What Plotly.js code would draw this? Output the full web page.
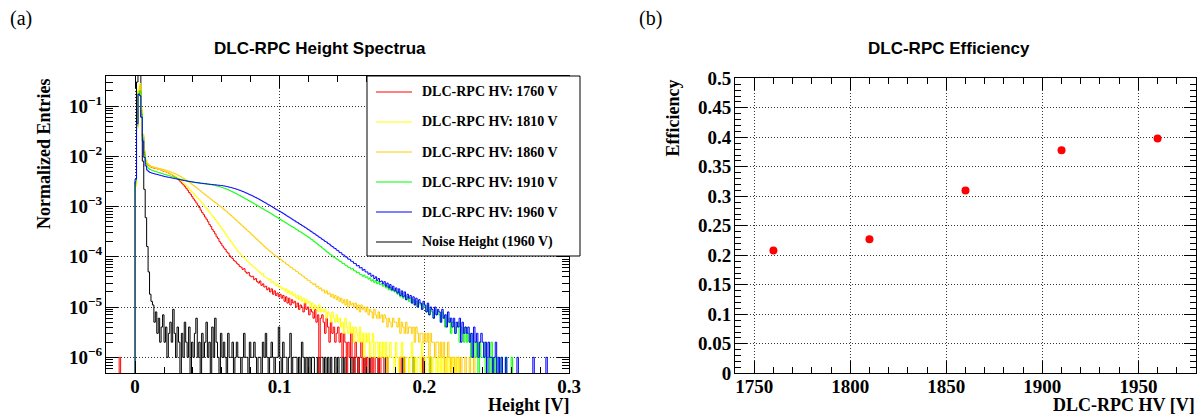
<!DOCTYPE html>
<html><head><meta charset="utf-8">
<script src="https://cdn.plot.ly/plotly-3.0.1.min.js"></script>
<style>html,body{margin:0;padding:0;background:#fff;}#chart{width:1202px;height:415px;}</style>
</head><body><div id="chart"></div>
<script>
// ---------------- DATA ----------------
// Left panel histograms: bin k covers [BIN_START + k*BIN_WIDTH, BIN_START + (k+1)*BIN_WIDTH).
// Values are normalized entries in units of ENTRY_UNIT (1e-6); one row = 0.01 V.
const BIN_START = -0.02;
const BIN_WIDTH = 0.001;
const N_BINS = 320;
const ENTRY_UNIT = 1e-6;

const hv1760 = [
 0,0,0,0,0,0,0,0,0,1,
 0,0,0,0,0,0,0,0,0,0,
 3000,40000,170000,200000,70000,25000,12000,8200,7000,6500,
 6200,6050,5900,5800,5700,5600,5500,5400,5250,5100,
 5000,4900,4750,4600,4450,4300,4150,3950,3750,3550,
 3350,3100,2900,2700,2500,2300,2100,1900,1750,1580,
 1420,1300,1180,1060,960,850,760,690,620,560,
 500,440,400,350,320,285,250,230,200,185,
 165,150,140,125,118,105,98,92,84,80,
 74,70,64,62,56,58,50,47,49,42,
 40,41,35,37,32,30,33,27,29,25,
 26,22,24,20,23,18,21,17,19,16,
 18,15,17,13,16,12,15,11,14,12,
 13,10,12,9,11,10,8,12,9,10,
 7,9,8,6,9,5,7,0,6,7,
 5,3,6,4,2,5,3,4,2,3,
 4,2,3,1,3,2,0,2,1,3,
 1,0,2,1,0,1,2,0,1,0,
 1,0,0,1,0,1,0,0,1,0,
 1,1,0,0,1,0,0,0,0,0,
 0,0,0,1,0,0,1,0,0,0,
 0,0,0,0,0,0,0,0,1,0];

const hv1810 = [
 0,0,0,0,0,0,0,0,0,0,
 0,0,0,0,0,0,0,0,0,0,
 2500,35000,220000,280000,90000,28000,13000,8500,7200,6700,
 6300,6150,6000,5900,5750,5650,5500,5400,5300,5200,
 5050,4950,4800,4650,4500,4350,4200,4050,3900,3750,
 3550,3350,3150,2950,2800,2600,2450,2250,2100,1950,
 1820,1680,1560,1450,1350,1250,1160,1080,1000,920,
 850,780,710,650,600,550,500,460,420,390,
 350,320,290,260,240,215,200,180,165,150,
 138,125,118,108,100,96,88,82,79,72,
 70,64,62,58,55,51,49,45,46,40,
 39,37,35,36,31,32,29,27,29,25,
 26,23,24,21,23,19,21,18,20,17,
 18,15,17,14,16,13,15,12,14,12,
 13,10,12,9,11,10,8,11,8,9,
 8,9,6,8,7,5,8,6,5,7,
 5,6,4,5,3,6,4,3,5,3,
 4,2,4,3,2,4,2,3,1,3,
 2,3,1,2,3,1,2,2,1,2,
 1,2,1,2,0,1,2,1,1,0,
 2,1,0,1,2,1,0,1,1,0,
 1,2,0,1,0,1,1,0,2,1,
 0,1,1,0,1,0,1,1,0,1,
 0,1,0,1,0,0,1,0,1,0,
 1,0,0,1,0,0,0,0,0,0];

const hv1860 = [
 0,0,0,0,0,0,0,0,0,0,
 0,0,0,0,0,0,0,0,0,0,
 2800,38000,200000,250000,85000,27000,12500,8400,7300,6800,
 6500,6300,6150,6050,5950,5850,5750,5650,5550,5450,
 5350,5250,5150,5050,4900,4800,4650,4550,4400,4250,
 4100,3950,3800,3650,3500,3350,3200,3050,2900,2750,
 2620,2500,2370,2250,2130,2020,1910,1810,1720,1630,
 1550,1480,1400,1330,1260,1200,1140,1080,1030,980,
 930,880,830,790,740,700,660,620,590,550,
 520,490,460,430,410,380,360,340,320,300,
 280,265,250,232,220,205,195,182,172,160,
 150,144,134,128,121,114,108,103,99,94,
 90,86,80,78,72,70,66,62,61,56,
 55,51,50,46,45,42,41,38,37,34,
 34,31,30,28,29,25,26,23,24,21,
 22,19,21,18,19,16,18,15,17,14,
 16,13,15,12,14,11,14,10,13,11,
 12,10,12,9,11,8,11,9,10,8,
 10,7,9,8,6,9,7,6,8,6,
 7,5,7,6,4,6,5,4,6,5,
 5,4,6,3,5,4,3,5,3,4,
 4,3,4,2,4,3,2,3,3,2,
 3,2,3,1,3,2,2,1,2,2,
 1,2,1,2,0,1,2,1,0,1,
 1,0,1,1,0,1,0,0,1,0,
 0,1,0,0,1,0,0,0,0,0];

const hv1910 = [
 0,0,0,0,0,0,0,0,0,0,
 0,0,0,0,0,0,0,0,0,0,
 3200,42000,180000,200000,70000,23000,11000,7200,6100,5700,
 5450,5300,5150,5050,4950,4850,4750,4650,4550,4450,
 4380,4290,4200,4110,4020,3930,3850,3770,3690,3620,
 3550,3490,3430,3370,3320,3270,3220,3170,3120,3080,
 3040,3000,2970,2940,2910,2880,2860,2840,2820,2800,
 2780,2750,2720,2690,2650,2610,2570,2530,2480,2430,
 2380,2330,2270,2210,2150,2090,2020,1960,1890,1830,
 1770,1710,1650,1590,1530,1480,1420,1370,1320,1270,
 1220,1180,1130,1090,1050,1010,970,930,900,860,
 830,800,770,740,710,680,650,630,600,580,
 555,530,510,490,470,450,430,415,400,385,
 370,352,340,322,312,298,286,272,262,250,
 240,226,218,204,196,186,176,166,160,150,
 142,136,126,122,114,110,104,98,95,90,
 87,82,80,74,73,68,66,62,61,57,
 58,53,52,48,49,45,44,41,43,39,
 40,36,38,33,35,31,34,29,32,28,
 29,26,28,24,26,22,25,21,23,20,
 21,18,20,16,19,15,17,14,16,13,
 15,12,14,11,13,10,12,11,9,12,
 10,8,11,7,9,8,6,9,7,8,
 7,5,8,6,4,7,5,6,3,5,
 5,3,4,5,2,4,3,2,4,2,
 3,2,1,3,2,1,2,0,2,1,
 1,2,0,1,1,0,2,0,1,0,
 1,0,0,1,0,0,1,0,0,0,
 1,0,0,0,0,0,0,0,0,0];

const hv1960 = [
 0,0,0,0,0,0,0,0,0,0,
 0,0,0,0,0,0,0,0,0,0,
 3500,45000,170000,160000,60000,20000,9500,6400,5300,4950,
 4750,4650,4560,4480,4400,4330,4250,4180,4100,4030,
 3960,3900,3850,3800,3750,3700,3650,3600,3550,3500,
 3450,3400,3350,3310,3270,3230,3190,3150,3120,3090,
 3060,3030,3000,2980,2950,2920,2900,2870,2850,2820,
 2800,2780,2760,2740,2720,2700,2680,2660,2640,2620,
 2600,2570,2540,2500,2460,2420,2380,2340,2290,2250,
 2200,2150,2100,2050,1990,1940,1880,1830,1770,1720,
 1670,1620,1560,1510,1460,1410,1360,1310,1260,1210,
 1170,1120,1080,1040,1000,960,920,880,850,820,
 790,760,730,700,670,640,615,590,565,540,
 520,495,478,455,440,418,405,385,372,352,
 340,322,310,294,284,268,258,244,236,222,
 214,202,196,184,178,166,160,150,146,136,
 132,122,120,110,108,100,98,90,89,82,
 80,74,73,66,67,60,61,54,56,50,
 50,45,47,41,43,37,40,34,37,32,
 33,29,32,26,30,24,28,22,26,21,
 24,19,23,17,21,16,20,14,18,15,
 17,12,16,11,15,10,14,12,9,13,
 11,8,12,7,10,9,6,10,7,9,
 8,5,9,6,7,4,8,5,6,4,
 6,3,5,4,6,2,5,3,4,3,
 4,2,3,1,4,2,3,1,2,3,
 2,1,2,0,2,1,1,0,1,2,
 0,1,0,1,0,0,1,0,0,0,
 0,0,0,0,1,0,0,0,0,0,
 0,0,0,0,0,1,0,0,0,0,
 0,0,0,0,1,0,0,0,0,0];

const noise1960 = [
 0,0,0,0,0,0,0,0,0,0,
 0,0,0,0,0,0,0,0,0,0,
 3000,300000,900000,700000,60000,8000,2200,600,160,50,
 18,13,11,5,8,3,6,2,4,7,
 2,4,1,3,5,2,9,3,1,4,
 2,0,3,1,5,2,1,4,0,2,
 1,3,6,1,2,0,3,1,2,5,
 1,2,0,4,1,6,2,1,0,3,
 1,2,1,0,3,1,1,2,0,1,
 2,1,1,0,1,3,1,1,0,2,
 1,1,2,1,0,1,1,0,2,1,
 3,1,0,1,2,1,0,1,1,4,
 1,0,2,1,1,0,1,3,0,1,
 1,1,0,1,0,2,1,0,1,0,
 1,0,1,1,0,0,1,0,1,1,
 0,1,0,1,0,1,0,0,1,0,
 1,0,0,1,0,1,0,0,0,1,
 0,1,0,0,1,0,0,0,1,0,
 0,0,1,0,0,0,0,0,1,0,
 0,0,0,1,0,0,0,0,0,0,
 0,0,0,0,0,1,0,0,0,0,
 0,0,1,0,0,0,0,0,0,1,
 0,0,0,0,1,0,0,0,0,0];

const seriesLabels = ['DLC-RPC HV: 1760 V','DLC-RPC HV: 1810 V','DLC-RPC HV: 1860 V',
                      'DLC-RPC HV: 1910 V','DLC-RPC HV: 1960 V','Noise Height (1960 V)'];
const seriesColors = ['#ff0000','#ffff00','#ffcc00','#00ff00','#0000ff','#000000'];

// Right panel
const hvPoints = [1760, 1810, 1860, 1910, 1960];
const efficiency = [0.208, 0.227, 0.310, 0.378, 0.398];

// Tick labels
const logTickVals = [1e-6,1e-5,1e-4,1e-3,1e-2,1e-1];
const logTickText = ['10<sup>−6</sup>','10<sup>−5</sup>','10<sup>−4</sup>','10<sup>−3</sup>','10<sup>−2</sup>','10<sup>−1</sup>'];
const heightTickVals = [0, 0.1, 0.2, 0.3];
const heightTickText = ['0','0.1','0.2','0.3'];
const hvTickVals = [1750, 1800, 1850, 1900, 1950];
const hvTickText = ['1750','1800','1850','1900','1950'];
const effTickVals = [0,0.05,0.1,0.15,0.2,0.25,0.3,0.35,0.4,0.45,0.5];
const effTickText = ['0','0.05','0.1','0.15','0.2','0.25','0.3','0.35','0.4','0.45','0.5'];

// ---------------- DRAWING ----------------
const W = 1202, H = 415;
const PX = x => x / W;
const PY = y => 1 - y / H;
const FLOOR = 1e-9; // empty bins drop below the log axis, as ROOT draws them
const bold = arr => arr.map(t => '<b>' + t + '</b>');

function histTrace(vals, color) {
  const xs = [], ys = [];
  let last = FLOOR;
  for (let k = 0; k < N_BINS; k++) {
    const v = k < vals.length ? vals[k] * ENTRY_UNIT : 0;
    last = v > 0 ? v : FLOOR;
    xs.push(BIN_START + k * BIN_WIDTH);
    ys.push(last);
  }
  xs.push(BIN_START + N_BINS * BIN_WIDTH); ys.push(last);
  return {type:'scatter', mode:'lines', x:xs, y:ys, xaxis:'x', yaxis:'y',
          line:{shape:'hv', color:color, width:1}, hoverinfo:'skip', showlegend:false};
}

const allHist = [hv1760, hv1810, hv1860, hv1910, hv1960, noise1960];
const traces = [];
traces.push(histTrace(noise1960, seriesColors[5]));
for (let i = 0; i < 5; i++) traces.push(histTrace(allHist[i], seriesColors[i]));

traces.push({type:'scatter', mode:'markers', x:hvPoints, y:efficiency, xaxis:'x2', yaxis:'y2',
  marker:{color:'#ff0000', size:8, symbol:'circle'}, hoverinfo:'skip', showlegend:false});

const minorLog = [];
for (let e = -7; e <= 0; e++) for (let d = 2; d <= 9; d++) minorLog.push(d * Math.pow(10, e));

const tickFont = {family:'Liberation Serif', size:19, weight:'bold', color:'#000'};
const gridDash = '1px,2px';
const gridColor = '#333';
const common = {ticks:'inside', tickcolor:'#000', tickwidth:1, ticklen:12,
  showline:true, linecolor:'#000', linewidth:1, mirror:'allticks',
  showgrid:true, gridcolor:gridColor, griddash:gridDash, gridwidth:1,
  zeroline:false, tickfont:tickFont, fixedrange:true, tickmode:'array'};

const layout = {
  width:W, height:H, margin:{l:0,r:0,t:0,b:0}, paper_bgcolor:'#fff', plot_bgcolor:'#fff',
  showlegend:false,
  xaxis: Object.assign({}, common, {domain:[PX(106), PX(569)], range:[-0.0201, 0.3], anchor:'y',
    tickvals:heightTickVals, ticktext:bold(heightTickText), ticklabelstandoff:-4,
    minor:{ticks:'inside', ticklen:6, dtick:0.02, tick0:0, tickcolor:'#000', showgrid:false}}),
  yaxis: Object.assign({}, common, {domain:[PY(373.3), PY(76)], type:'log', range:[-6.318, -0.403], anchor:'x',
    tickvals:logTickVals, ticktext:bold(logTickText), ticklabelstandoff:-1,
    minor:{ticks:'inside', ticklen:7, tickmode:'array', tickvals:minorLog, tickcolor:'#000', showgrid:false}}),
  xaxis2: Object.assign({}, common, {domain:[PX(735), PX(1196)], range:[1740, 1980], anchor:'y2',
    tickvals:hvTickVals, ticktext:bold(hvTickText), ticklabelstandoff:-4,
    minor:{ticks:'inside', ticklen:6, dtick:10, tick0:1750, tickcolor:'#000', showgrid:false}}),
  yaxis2: Object.assign({}, common, {domain:[PY(373.3), PY(78.3)], range:[0, 0.5], anchor:'x2',
    tickvals:effTickVals, ticktext:bold(effTickText), ticklabelstandoff:-1,
    minor:{ticks:'inside', ticklen:6, dtick:0.01, tick0:0, tickcolor:'#000', showgrid:false}}),
  shapes:[], annotations:[]
};

const serifBold = (s) => ({family:'Liberation Serif', size:s, weight:'bold', color:'#000'});
const sansBold = (s) => ({family:'Liberation Sans', size:s, weight:'bold', color:'#000'});
function ann(text, x, y, xa, ya, font, angle) {
  layout.annotations.push({text:text, x:PX(x), y:PY(y), xref:'paper', yref:'paper',
    xanchor:xa, yanchor:ya, showarrow:false, font:font, textangle:angle || 0});
}

ann('(a)', 8, 19, 'left', 'middle', {family:'Liberation Serif', size:20, color:'#000'});
ann('(b)', 637, 19, 'left', 'middle', {family:'Liberation Serif', size:20, color:'#000'});
ann('DLC-RPC Height Spectrua', 320, 49, 'center', 'middle', sansBold(17));
ann('DLC-RPC Efficiency', 949, 49, 'center', 'middle', sansBold(17));
ann('Height [V]', 571, 405, 'right', 'middle', serifBold(18));
ann('Normalized Entries', 44, 77, 'center', 'top', serifBold(18), -90);
ann('DLC-RPC HV [V]', 1197, 405, 'right', 'middle', serifBold(18));
ann('Efficiency', 673, 77, 'center', 'top', serifBold(18), -90);

// legend box
layout.shapes.push({type:'rect', xref:'paper', yref:'paper', x0:PX(367), x1:PX(580), y0:PY(256), y1:PY(76),
  fillcolor:'#fff', line:{color:'#000', width:1}, layer:'above'});
for (let i = 0; i < seriesLabels.length; i++) {
  const yy = 92 + 30 * i;
  layout.shapes.push({type:'line', xref:'paper', yref:'paper', x0:PX(376), x1:PX(412), y0:PY(yy), y1:PY(yy),
    line:{color:seriesColors[i], width:1}, layer:'above'});
  ann(seriesLabels[i], 420, yy, 'left', 'middle', serifBold(14));
}

Plotly.newPlot('chart', traces, layout, {staticPlot:true, displayModeBar:false});
</script></body></html>
